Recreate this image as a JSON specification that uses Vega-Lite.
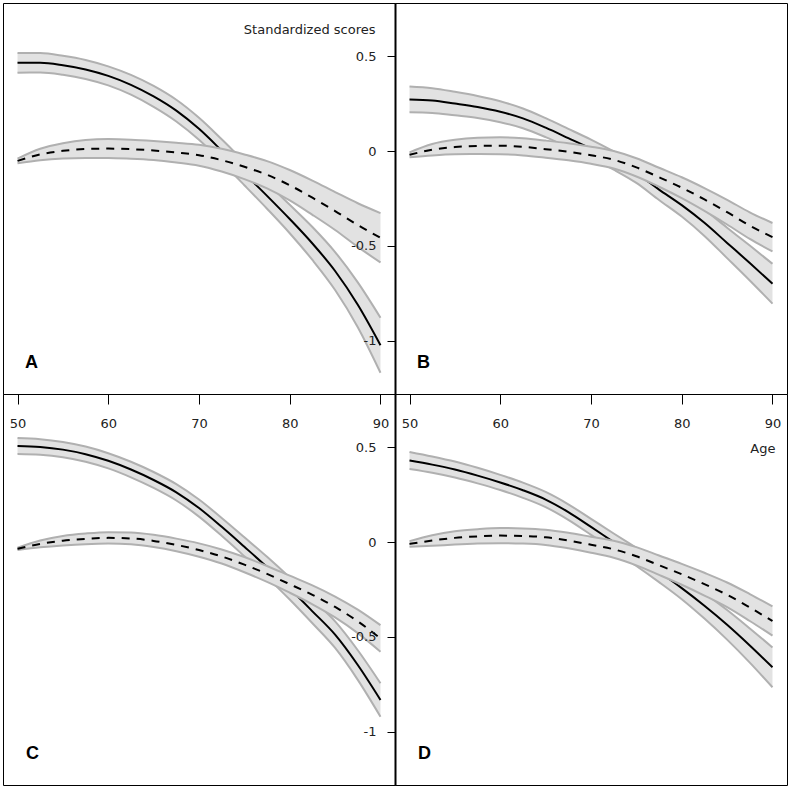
{
  "$schema": "https://vega.github.io/schema/vega-lite/v6.json",
  "background": "white",
  "padding": {"left": 2, "top": 2, "right": 2, "bottom": 2},
  "autosize": {"type": "pad"},
  "config": {
    "view": {"stroke": "#000", "strokeWidth": 1},
    "axis": {"grid": false}
  },
  "data": {"values": [
    {"panel":"A","group":"solid","age":50,"est":0.465,"lo":0.413,"hi":0.517},
    {"panel":"A","group":"solid","age":52.5,"est":0.465,"lo":0.414,"hi":0.516},
    {"panel":"A","group":"solid","age":55,"est":0.452,"lo":0.402,"hi":0.502},
    {"panel":"A","group":"solid","age":57.5,"est":0.430,"lo":0.380,"hi":0.480},
    {"panel":"A","group":"solid","age":60,"est":0.396,"lo":0.346,"hi":0.446},
    {"panel":"A","group":"solid","age":62.5,"est":0.349,"lo":0.297,"hi":0.401},
    {"panel":"A","group":"solid","age":65,"est":0.288,"lo":0.233,"hi":0.343},
    {"panel":"A","group":"solid","age":67.5,"est":0.213,"lo":0.156,"hi":0.270},
    {"panel":"A","group":"solid","age":70,"est":0.117,"lo":0.059,"hi":0.175},
    {"panel":"A","group":"solid","age":72.5,"est":0.002,"lo":-0.058,"hi":0.062},
    {"panel":"A","group":"solid","age":75,"est":-0.118,"lo":-0.180,"hi":-0.056},
    {"panel":"A","group":"solid","age":77.5,"est":-0.236,"lo":-0.304,"hi":-0.168},
    {"panel":"A","group":"solid","age":80,"est":-0.358,"lo":-0.433,"hi":-0.283},
    {"panel":"A","group":"solid","age":82.5,"est":-0.487,"lo":-0.574,"hi":-0.400},
    {"panel":"A","group":"solid","age":85,"est":-0.632,"lo":-0.732,"hi":-0.532},
    {"panel":"A","group":"solid","age":87.5,"est":-0.810,"lo":-0.928,"hi":-0.692},
    {"panel":"A","group":"solid","age":90,"est":-1.023,"lo":-1.168,"hi":-0.878},
    {"panel":"A","group":"dashed","age":50,"est":-0.052,"lo":-0.064,"hi":-0.040},
    {"panel":"A","group":"dashed","age":52.5,"est":-0.018,"lo":-0.048,"hi":0.012},
    {"panel":"A","group":"dashed","age":55,"est":0.001,"lo":-0.039,"hi":0.041},
    {"panel":"A","group":"dashed","age":57.5,"est":0.011,"lo":-0.036,"hi":0.058},
    {"panel":"A","group":"dashed","age":60,"est":0.013,"lo":-0.037,"hi":0.063},
    {"panel":"A","group":"dashed","age":62.5,"est":0.010,"lo":-0.040,"hi":0.060},
    {"panel":"A","group":"dashed","age":65,"est":0.003,"lo":-0.047,"hi":0.053},
    {"panel":"A","group":"dashed","age":67.5,"est":-0.008,"lo":-0.060,"hi":0.044},
    {"panel":"A","group":"dashed","age":70,"est":-0.022,"lo":-0.077,"hi":0.033},
    {"panel":"A","group":"dashed","age":72.5,"est":-0.048,"lo":-0.108,"hi":0.012},
    {"panel":"A","group":"dashed","age":75,"est":-0.083,"lo":-0.148,"hi":-0.018},
    {"panel":"A","group":"dashed","age":77.5,"est":-0.125,"lo":-0.197,"hi":-0.053},
    {"panel":"A","group":"dashed","age":80,"est":-0.180,"lo":-0.260,"hi":-0.100},
    {"panel":"A","group":"dashed","age":82.5,"est":-0.246,"lo":-0.336,"hi":-0.156},
    {"panel":"A","group":"dashed","age":85,"est":-0.316,"lo":-0.416,"hi":-0.216},
    {"panel":"A","group":"dashed","age":87.5,"est":-0.390,"lo":-0.505,"hi":-0.275},
    {"panel":"A","group":"dashed","age":90,"est":-0.457,"lo":-0.587,"hi":-0.327},
    {"panel":"B","group":"solid","age":50,"est":0.272,"lo":0.204,"hi":0.340},
    {"panel":"B","group":"solid","age":52.5,"est":0.266,"lo":0.201,"hi":0.331},
    {"panel":"B","group":"solid","age":55,"est":0.250,"lo":0.188,"hi":0.312},
    {"panel":"B","group":"solid","age":57.5,"est":0.232,"lo":0.174,"hi":0.290},
    {"panel":"B","group":"solid","age":60,"est":0.207,"lo":0.152,"hi":0.262},
    {"panel":"B","group":"solid","age":62.5,"est":0.172,"lo":0.120,"hi":0.224},
    {"panel":"B","group":"solid","age":65,"est":0.123,"lo":0.073,"hi":0.173},
    {"panel":"B","group":"solid","age":67.5,"est":0.068,"lo":0.019,"hi":0.117},
    {"panel":"B","group":"solid","age":70,"est":0.012,"lo":-0.036,"hi":0.060},
    {"panel":"B","group":"solid","age":72.5,"est":-0.050,"lo":-0.098,"hi":-0.002},
    {"panel":"B","group":"solid","age":75,"est":-0.118,"lo":-0.168,"hi":-0.068},
    {"panel":"B","group":"solid","age":77.5,"est":-0.203,"lo":-0.258,"hi":-0.148},
    {"panel":"B","group":"solid","age":80,"est":-0.285,"lo":-0.345,"hi":-0.225},
    {"panel":"B","group":"solid","age":82.5,"est":-0.378,"lo":-0.447,"hi":-0.309},
    {"panel":"B","group":"solid","age":85,"est":-0.484,"lo":-0.564,"hi":-0.404},
    {"panel":"B","group":"solid","age":87.5,"est":-0.590,"lo":-0.682,"hi":-0.498},
    {"panel":"B","group":"solid","age":90,"est":-0.699,"lo":-0.804,"hi":-0.594},
    {"panel":"B","group":"dashed","age":50,"est":-0.020,"lo":-0.033,"hi":-0.007},
    {"panel":"B","group":"dashed","age":52.5,"est":0.007,"lo":-0.023,"hi":0.037},
    {"panel":"B","group":"dashed","age":55,"est":0.021,"lo":-0.017,"hi":0.059},
    {"panel":"B","group":"dashed","age":57.5,"est":0.027,"lo":-0.016,"hi":0.070},
    {"panel":"B","group":"dashed","age":60,"est":0.028,"lo":-0.017,"hi":0.073},
    {"panel":"B","group":"dashed","age":62.5,"est":0.022,"lo":-0.023,"hi":0.067},
    {"panel":"B","group":"dashed","age":65,"est":0.010,"lo":-0.035,"hi":0.055},
    {"panel":"B","group":"dashed","age":67.5,"est":-0.004,"lo":-0.049,"hi":0.041},
    {"panel":"B","group":"dashed","age":70,"est":-0.022,"lo":-0.067,"hi":0.023},
    {"panel":"B","group":"dashed","age":72.5,"est":-0.046,"lo":-0.092,"hi":0.000},
    {"panel":"B","group":"dashed","age":75,"est":-0.086,"lo":-0.134,"hi":-0.038},
    {"panel":"B","group":"dashed","age":77.5,"est":-0.138,"lo":-0.188,"hi":-0.088},
    {"panel":"B","group":"dashed","age":80,"est":-0.193,"lo":-0.248,"hi":-0.138},
    {"panel":"B","group":"dashed","age":82.5,"est":-0.255,"lo":-0.315,"hi":-0.195},
    {"panel":"B","group":"dashed","age":85,"est":-0.322,"lo":-0.387,"hi":-0.257},
    {"panel":"B","group":"dashed","age":87.5,"est":-0.393,"lo":-0.463,"hi":-0.323},
    {"panel":"B","group":"dashed","age":90,"est":-0.454,"lo":-0.529,"hi":-0.379},
    {"panel":"C","group":"solid","age":50,"est":0.506,"lo":0.464,"hi":0.548},
    {"panel":"C","group":"solid","age":52.5,"est":0.501,"lo":0.460,"hi":0.542},
    {"panel":"C","group":"solid","age":55,"est":0.487,"lo":0.447,"hi":0.527},
    {"panel":"C","group":"solid","age":57.5,"est":0.463,"lo":0.423,"hi":0.503},
    {"panel":"C","group":"solid","age":60,"est":0.428,"lo":0.388,"hi":0.468},
    {"panel":"C","group":"solid","age":62.5,"est":0.382,"lo":0.341,"hi":0.423},
    {"panel":"C","group":"solid","age":65,"est":0.327,"lo":0.285,"hi":0.369},
    {"panel":"C","group":"solid","age":67.5,"est":0.262,"lo":0.219,"hi":0.305},
    {"panel":"C","group":"solid","age":70,"est":0.179,"lo":0.134,"hi":0.224},
    {"panel":"C","group":"solid","age":72.5,"est":0.080,"lo":0.033,"hi":0.127},
    {"panel":"C","group":"solid","age":75,"est":-0.025,"lo":-0.075,"hi":0.025},
    {"panel":"C","group":"solid","age":77.5,"est":-0.132,"lo":-0.186,"hi":-0.078},
    {"panel":"C","group":"solid","age":80,"est":-0.245,"lo":-0.303,"hi":-0.187},
    {"panel":"C","group":"solid","age":82.5,"est":-0.365,"lo":-0.428,"hi":-0.302},
    {"panel":"C","group":"solid","age":85,"est":-0.488,"lo":-0.558,"hi":-0.418},
    {"panel":"C","group":"solid","age":87.5,"est":-0.648,"lo":-0.726,"hi":-0.570},
    {"panel":"C","group":"solid","age":90,"est":-0.832,"lo":-0.920,"hi":-0.744},
    {"panel":"C","group":"dashed","age":50,"est":-0.036,"lo":-0.042,"hi":-0.030},
    {"panel":"C","group":"dashed","age":52.5,"est":-0.010,"lo":-0.028,"hi":0.008},
    {"panel":"C","group":"dashed","age":55,"est":0.007,"lo":-0.018,"hi":0.032},
    {"panel":"C","group":"dashed","age":57.5,"est":0.017,"lo":-0.011,"hi":0.045},
    {"panel":"C","group":"dashed","age":60,"est":0.022,"lo":-0.008,"hi":0.052},
    {"panel":"C","group":"dashed","age":62.5,"est":0.019,"lo":-0.012,"hi":0.050},
    {"panel":"C","group":"dashed","age":65,"est":0.006,"lo":-0.026,"hi":0.038},
    {"panel":"C","group":"dashed","age":67.5,"est":-0.015,"lo":-0.048,"hi":0.018},
    {"panel":"C","group":"dashed","age":70,"est":-0.042,"lo":-0.077,"hi":-0.007},
    {"panel":"C","group":"dashed","age":72.5,"est":-0.076,"lo":-0.113,"hi":-0.039},
    {"panel":"C","group":"dashed","age":75,"est":-0.119,"lo":-0.159,"hi":-0.079},
    {"panel":"C","group":"dashed","age":77.5,"est":-0.168,"lo":-0.210,"hi":-0.126},
    {"panel":"C","group":"dashed","age":80,"est":-0.222,"lo":-0.267,"hi":-0.177},
    {"panel":"C","group":"dashed","age":82.5,"est":-0.278,"lo":-0.328,"hi":-0.228},
    {"panel":"C","group":"dashed","age":85,"est":-0.342,"lo":-0.397,"hi":-0.287},
    {"panel":"C","group":"dashed","age":87.5,"est":-0.418,"lo":-0.480,"hi":-0.356},
    {"panel":"C","group":"dashed","age":90,"est":-0.508,"lo":-0.578,"hi":-0.438},
    {"panel":"D","group":"solid","age":50,"est":0.430,"lo":0.385,"hi":0.475},
    {"panel":"D","group":"solid","age":52.5,"est":0.408,"lo":0.365,"hi":0.451},
    {"panel":"D","group":"solid","age":55,"est":0.382,"lo":0.340,"hi":0.424},
    {"panel":"D","group":"solid","age":57.5,"est":0.350,"lo":0.309,"hi":0.391},
    {"panel":"D","group":"solid","age":60,"est":0.314,"lo":0.274,"hi":0.354},
    {"panel":"D","group":"solid","age":62.5,"est":0.273,"lo":0.233,"hi":0.313},
    {"panel":"D","group":"solid","age":65,"est":0.224,"lo":0.184,"hi":0.264},
    {"panel":"D","group":"solid","age":67.5,"est":0.158,"lo":0.117,"hi":0.199},
    {"panel":"D","group":"solid","age":70,"est":0.080,"lo":0.038,"hi":0.122},
    {"panel":"D","group":"solid","age":72.5,"est":0.000,"lo":-0.045,"hi":0.045},
    {"panel":"D","group":"solid","age":75,"est":-0.078,"lo":-0.126,"hi":-0.030},
    {"panel":"D","group":"solid","age":77.5,"est":-0.158,"lo":-0.211,"hi":-0.105},
    {"panel":"D","group":"solid","age":80,"est":-0.243,"lo":-0.301,"hi":-0.185},
    {"panel":"D","group":"solid","age":82.5,"est":-0.336,"lo":-0.403,"hi":-0.269},
    {"panel":"D","group":"solid","age":85,"est":-0.436,"lo":-0.514,"hi":-0.358},
    {"panel":"D","group":"solid","age":87.5,"est":-0.545,"lo":-0.635,"hi":-0.455},
    {"panel":"D","group":"solid","age":90,"est":-0.660,"lo":-0.765,"hi":-0.555},
    {"panel":"D","group":"dashed","age":50,"est":-0.010,"lo":-0.025,"hi":0.005},
    {"panel":"D","group":"dashed","age":52.5,"est":0.008,"lo":-0.020,"hi":0.036},
    {"panel":"D","group":"dashed","age":55,"est":0.022,"lo":-0.013,"hi":0.057},
    {"panel":"D","group":"dashed","age":57.5,"est":0.030,"lo":-0.008,"hi":0.068},
    {"panel":"D","group":"dashed","age":60,"est":0.034,"lo":-0.006,"hi":0.074},
    {"panel":"D","group":"dashed","age":62.5,"est":0.032,"lo":-0.008,"hi":0.072},
    {"panel":"D","group":"dashed","age":65,"est":0.025,"lo":-0.015,"hi":0.065},
    {"panel":"D","group":"dashed","age":67.5,"est":0.008,"lo":-0.033,"hi":0.049},
    {"panel":"D","group":"dashed","age":70,"est":-0.014,"lo":-0.056,"hi":0.028},
    {"panel":"D","group":"dashed","age":72.5,"est":-0.038,"lo":-0.083,"hi":0.007},
    {"panel":"D","group":"dashed","age":75,"est":-0.075,"lo":-0.123,"hi":-0.027},
    {"panel":"D","group":"dashed","age":77.5,"est":-0.122,"lo":-0.173,"hi":-0.071},
    {"panel":"D","group":"dashed","age":80,"est":-0.170,"lo":-0.225,"hi":-0.115},
    {"panel":"D","group":"dashed","age":82.5,"est":-0.222,"lo":-0.282,"hi":-0.162},
    {"panel":"D","group":"dashed","age":85,"est":-0.278,"lo":-0.343,"hi":-0.213},
    {"panel":"D","group":"dashed","age":87.5,"est":-0.345,"lo":-0.416,"hi":-0.274},
    {"panel":"D","group":"dashed","age":90,"est":-0.416,"lo":-0.493,"hi":-0.339}
  ]},
  "columns": 2,
  "spacing": 0,
  "bounds": "flush",
  "concat": [
    {
      "width": 392, "height": 391,
      "title": {"text": "A", "orient": "top", "anchor": "start", "frame": "group", "offset": -383, "dx": 22, "baseline": "alphabetic", "font": "Liberation Sans", "fontSize": 18, "fontWeight": "bold", "color": "#000"},
      "transform": [{"filter": "datum.panel == 'A'"}],
      "encoding": {"x": {"field": "age", "type": "quantitative", "scale": {"domain": [48.4, 91.6], "nice": false, "zero": false},
        "axis": {"orient": "bottom", "values": [50, 60, 70, 80, 90], "tickSize": 10, "tickColor": "#000", "labelPadding": 13, "domain": false, "grid": false, "labelFont": "DejaVu Sans", "labelFontSize": 13, "labelColor": "#222", "labelFlush": false, "title": null}}},
      "layer": [
        {"transform": [{"filter": "datum.group == 'solid'"}], "layer": [
          {"mark": {"type": "area", "color": "#e2e2e2", "interpolate": "monotone"}, "encoding": {"y": {"field": "lo", "type": "quantitative", "scale": {"domain": [-1.28, 0.78], "nice": false, "zero": false}, "axis": null}, "y2": {"field": "hi"}}},
          {"transform": [{"fold": ["lo", "hi"], "as": ["bound", "val"]}], "mark": {"type": "line", "color": "#b0b0b0", "strokeWidth": 2, "interpolate": "monotone"}, "encoding": {"y": {"field": "val", "type": "quantitative", "axis": null}, "detail": {"field": "bound"}}},
          {"mark": {"type": "line", "color": "#000", "strokeWidth": 2, "interpolate": "monotone"}, "encoding": {"y": {"field": "est", "type": "quantitative", "axis": null}}}
        ]},
        {"transform": [{"filter": "datum.group == 'dashed'"}], "layer": [
          {"mark": {"type": "area", "color": "#e2e2e2", "interpolate": "monotone"}, "encoding": {"y": {"field": "lo", "type": "quantitative", "axis": null}, "y2": {"field": "hi"}}},
          {"transform": [{"fold": ["lo", "hi"], "as": ["bound", "val"]}], "mark": {"type": "line", "color": "#b0b0b0", "strokeWidth": 2, "interpolate": "monotone"}, "encoding": {"y": {"field": "val", "type": "quantitative", "axis": null}, "detail": {"field": "bound"}}},
          {"mark": {"type": "line", "color": "#000", "strokeWidth": 2, "strokeDash": [8, 7], "interpolate": "monotone"}, "encoding": {"y": {"field": "est", "type": "quantitative", "axis": null}}}
        ]}
      ]
    },
    {
      "width": 392, "height": 391,
      "title": {"text": "B", "orient": "top", "anchor": "start", "frame": "group", "offset": -383, "dx": 22, "baseline": "alphabetic", "font": "Liberation Sans", "fontSize": 18, "fontWeight": "bold", "color": "#000"},
      "transform": [{"filter": "datum.panel == 'B'"}],
      "encoding": {"x": {"field": "age", "type": "quantitative", "scale": {"domain": [48.4, 91.6], "nice": false, "zero": false},
        "axis": {"orient": "bottom", "values": [50, 60, 70, 80, 90], "tickSize": 10, "tickColor": "#000", "labelPadding": 13, "domain": false, "grid": false, "labelFont": "DejaVu Sans", "labelFontSize": 13, "labelColor": "#222", "labelFlush": false,
          "title": "Age", "titleX": 380, "titleY": 54, "titleAlign": "right", "titleBaseline": "middle", "titleFont": "DejaVu Sans", "titleFontSize": 13, "titleFontWeight": "normal", "titleColor": "#222"}}},
      "layer": [
        {"transform": [{"filter": "datum.group == 'solid'"}], "layer": [
          {"mark": {"type": "area", "color": "#e2e2e2", "interpolate": "monotone"}, "encoding": {"y": {"field": "lo", "type": "quantitative", "scale": {"domain": [-1.28, 0.78], "nice": false, "zero": false},
            "axis": {"orient": "left", "values": [-1, -0.5, 0, 0.5], "labelExpr": "toString(datum.value)", "tickSize": 8, "tickColor": "#000", "labelPadding": 11, "domain": true, "domainColor": "#000", "domainWidth": 2, "grid": false, "labelFont": "DejaVu Sans", "labelFontSize": 13, "labelColor": "#222",
              "title": "Standardized scores", "titleAngle": 0, "titleAlign": "right", "titleBaseline": "middle", "titleX": -20, "titleY": 26, "titleFont": "DejaVu Sans", "titleFontSize": 13, "titleFontWeight": "normal", "titleColor": "#222"}}, "y2": {"field": "hi"}}},
          {"transform": [{"fold": ["lo", "hi"], "as": ["bound", "val"]}], "mark": {"type": "line", "color": "#b0b0b0", "strokeWidth": 2, "interpolate": "monotone"}, "encoding": {"y": {"field": "val", "type": "quantitative"}, "detail": {"field": "bound"}}},
          {"mark": {"type": "line", "color": "#000", "strokeWidth": 2, "interpolate": "monotone"}, "encoding": {"y": {"field": "est", "type": "quantitative"}}}
        ]},
        {"transform": [{"filter": "datum.group == 'dashed'"}], "layer": [
          {"mark": {"type": "area", "color": "#e2e2e2", "interpolate": "monotone"}, "encoding": {"y": {"field": "lo", "type": "quantitative"}, "y2": {"field": "hi"}}},
          {"transform": [{"fold": ["lo", "hi"], "as": ["bound", "val"]}], "mark": {"type": "line", "color": "#b0b0b0", "strokeWidth": 2, "interpolate": "monotone"}, "encoding": {"y": {"field": "val", "type": "quantitative"}, "detail": {"field": "bound"}}},
          {"mark": {"type": "line", "color": "#000", "strokeWidth": 2, "strokeDash": [8, 7], "interpolate": "monotone"}, "encoding": {"y": {"field": "est", "type": "quantitative"}}}
        ]}
      ]
    },
    {
      "width": 392, "height": 391,
      "title": {"text": "C", "orient": "top", "anchor": "start", "frame": "group", "offset": -383, "dx": 23, "baseline": "alphabetic", "font": "Liberation Sans", "fontSize": 18, "fontWeight": "bold", "color": "#000"},
      "transform": [{"filter": "datum.panel == 'C'"}],
      "encoding": {"x": {"field": "age", "type": "quantitative", "scale": {"domain": [48.4, 91.6], "nice": false, "zero": false}, "axis": null}},
      "layer": [
        {"transform": [{"filter": "datum.group == 'solid'"}], "layer": [
          {"mark": {"type": "area", "color": "#e2e2e2", "interpolate": "monotone"}, "encoding": {"y": {"field": "lo", "type": "quantitative", "scale": {"domain": [-1.28, 0.78], "nice": false, "zero": false}, "axis": null}, "y2": {"field": "hi"}}},
          {"transform": [{"fold": ["lo", "hi"], "as": ["bound", "val"]}], "mark": {"type": "line", "color": "#b0b0b0", "strokeWidth": 2, "interpolate": "monotone"}, "encoding": {"y": {"field": "val", "type": "quantitative", "axis": null}, "detail": {"field": "bound"}}},
          {"mark": {"type": "line", "color": "#000", "strokeWidth": 2, "interpolate": "monotone"}, "encoding": {"y": {"field": "est", "type": "quantitative", "axis": null}}}
        ]},
        {"transform": [{"filter": "datum.group == 'dashed'"}], "layer": [
          {"mark": {"type": "area", "color": "#e2e2e2", "interpolate": "monotone"}, "encoding": {"y": {"field": "lo", "type": "quantitative", "axis": null}, "y2": {"field": "hi"}}},
          {"transform": [{"fold": ["lo", "hi"], "as": ["bound", "val"]}], "mark": {"type": "line", "color": "#b0b0b0", "strokeWidth": 2, "interpolate": "monotone"}, "encoding": {"y": {"field": "val", "type": "quantitative", "axis": null}, "detail": {"field": "bound"}}},
          {"mark": {"type": "line", "color": "#000", "strokeWidth": 2, "strokeDash": [8, 7], "interpolate": "monotone"}, "encoding": {"y": {"field": "est", "type": "quantitative", "axis": null}}}
        ]}
      ]
    },
    {
      "width": 392, "height": 391,
      "title": {"text": "D", "orient": "top", "anchor": "start", "frame": "group", "offset": -383, "dx": 23, "baseline": "alphabetic", "font": "Liberation Sans", "fontSize": 18, "fontWeight": "bold", "color": "#000"},
      "transform": [{"filter": "datum.panel == 'D'"}],
      "encoding": {"x": {"field": "age", "type": "quantitative", "scale": {"domain": [48.4, 91.6], "nice": false, "zero": false}, "axis": null}},
      "layer": [
        {"transform": [{"filter": "datum.group == 'solid'"}], "layer": [
          {"mark": {"type": "area", "color": "#e2e2e2", "interpolate": "monotone"}, "encoding": {"y": {"field": "lo", "type": "quantitative", "scale": {"domain": [-1.28, 0.78], "nice": false, "zero": false},
            "axis": {"orient": "left", "values": [-1, -0.5, 0, 0.5], "labelExpr": "toString(datum.value)", "tickSize": 8, "tickColor": "#000", "labelPadding": 11, "domain": true, "domainColor": "#000", "domainWidth": 2, "grid": false, "labelFont": "DejaVu Sans", "labelFontSize": 13, "labelColor": "#222", "title": null}}, "y2": {"field": "hi"}}},
          {"transform": [{"fold": ["lo", "hi"], "as": ["bound", "val"]}], "mark": {"type": "line", "color": "#b0b0b0", "strokeWidth": 2, "interpolate": "monotone"}, "encoding": {"y": {"field": "val", "type": "quantitative"}, "detail": {"field": "bound"}}},
          {"mark": {"type": "line", "color": "#000", "strokeWidth": 2, "interpolate": "monotone"}, "encoding": {"y": {"field": "est", "type": "quantitative"}}}
        ]},
        {"transform": [{"filter": "datum.group == 'dashed'"}], "layer": [
          {"mark": {"type": "area", "color": "#e2e2e2", "interpolate": "monotone"}, "encoding": {"y": {"field": "lo", "type": "quantitative"}, "y2": {"field": "hi"}}},
          {"transform": [{"fold": ["lo", "hi"], "as": ["bound", "val"]}], "mark": {"type": "line", "color": "#b0b0b0", "strokeWidth": 2, "interpolate": "monotone"}, "encoding": {"y": {"field": "val", "type": "quantitative"}, "detail": {"field": "bound"}}},
          {"mark": {"type": "line", "color": "#000", "strokeWidth": 2, "strokeDash": [8, 7], "interpolate": "monotone"}, "encoding": {"y": {"field": "est", "type": "quantitative"}}}
        ]}
      ]
    }
  ]
}
